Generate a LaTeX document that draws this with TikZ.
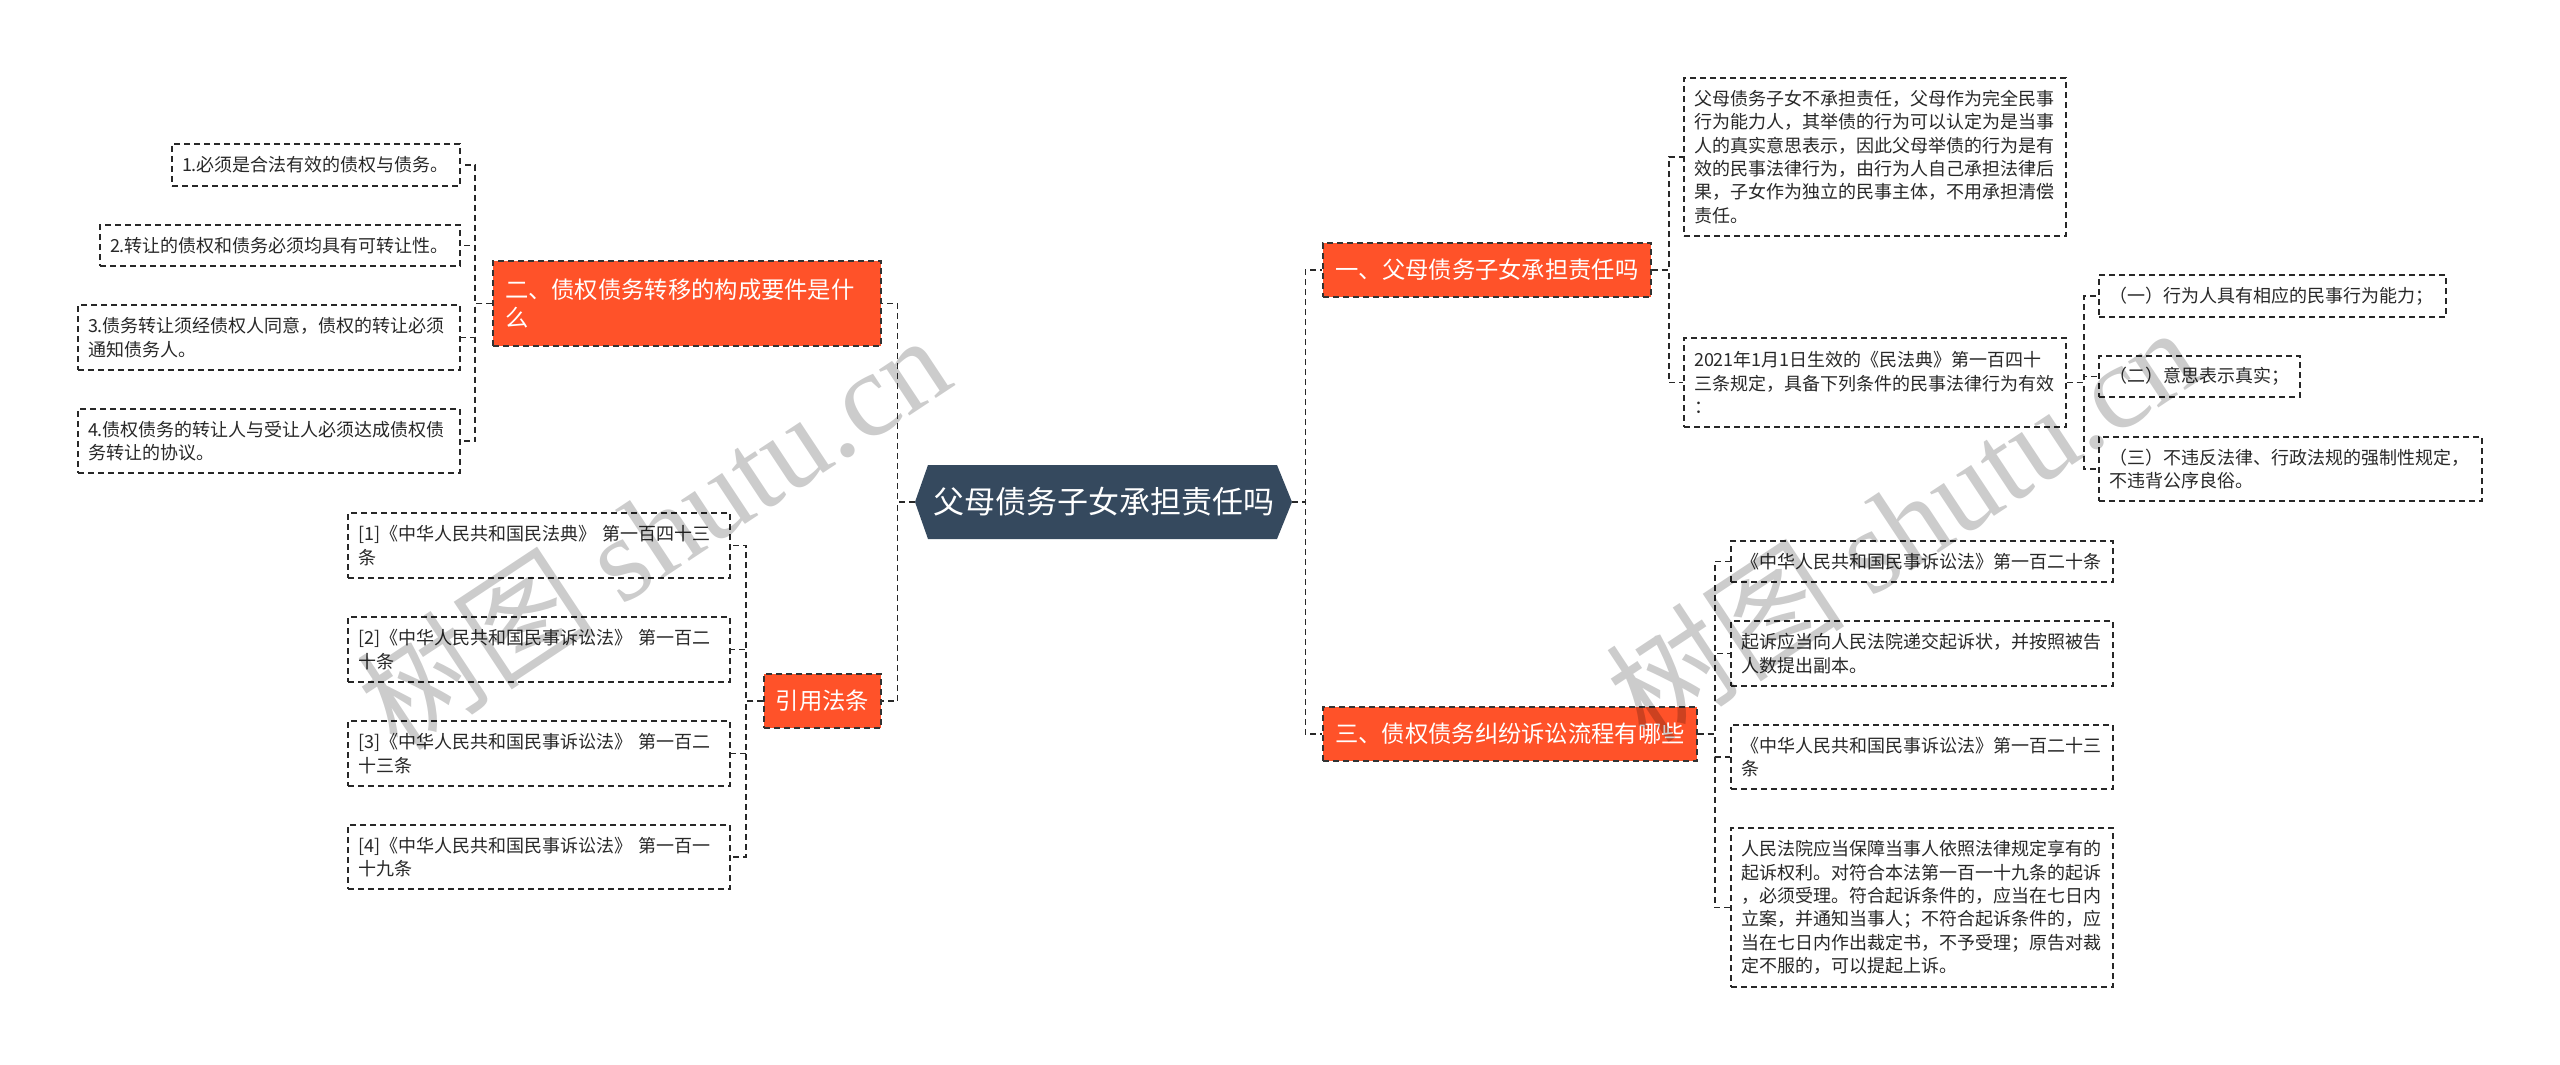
\documentclass[tikz,border=0pt]{standalone}
\usepackage{fontspec}
\setmainfont{Noto Sans CJK SC}
\newfontfamily\wmserif{Liberation Serif}
\usetikzlibrary{calc}
\definecolor{orng}{RGB}{255,82,41}
\definecolor{rootc}{RGB}{53,73,94}
\definecolor{linec}{RGB}{40,40,40}
\definecolor{txtc}{RGB}{40,40,40}
\begin{document}
\begin{tikzpicture}[x=0.5pt,y=-0.5pt,
  conn/.style={draw=linec, line width=0.85pt, dash pattern=on 3pt off 2pt},
  leaf/.style={draw=linec, line width=0.85pt, dash pattern=on 3pt off 2pt, fill=white,
    inner xsep=5pt, inner ysep=1pt, align=left, text=txtc,
    font=\fontsize{9pt}{11.65pt}\selectfont},
  lf/.style 2 args={leaf, text width=#1, minimum height=#2},
  branch/.style={draw=black!80, line width=0.85pt, dash pattern=on 3pt off 2pt, fill=orng,
    text=white, inner xsep=6pt, inner ysep=1pt, align=left,
    font=\fontsize{11.65pt}{14pt}\selectfont},
  rootbox/.style={draw=none, text=white, inner sep=0pt, minimum width=188.5pt,
    minimum height=37pt, font=\fontsize{15.5pt}{18pt}\selectfont},
  wm/.style={text=black, opacity=0.2, inner sep=0pt, font=\fontsize{60pt}{60pt}\selectfont}
]
\fill[white] (0,0) rectangle (2560,1065);
\path[use as bounding box] (0,0) rectangle (2560,1065);

% root
\fill[rootc] (915,502) -- (928,465) -- (1277,465) -- (1292,502) -- (1277,539) -- (928,539) -- cycle;
\node[rootbox] (root) at (1103.5,502) {父母债务子女承担责任吗};

% branches
\node[branch, minimum width=164pt, minimum height=27pt, align=center] (b1) at (1487,270) {一、父母债务子女承担责任吗};
\node[branch, minimum width=187pt, minimum height=27pt, align=center] (b3) at (1510,734) {三、债权债务纠纷诉讼流程有哪些};
\node[branch, text width=182pt, minimum height=42.5pt] (b2) at (687,303.5) {二、债权债务转移的构成要件是什\\么};
\node[branch, minimum width=58.5pt, minimum height=27pt, align=center] (b4) at (822.5,701) {引用法条};

% branch 1 leaves
\node[lf={181pt}{79pt}] (l11) at (1875,157) {父母债务子女不承担责任，父母作为完全民事\\行为能力人，其举债的行为可以认定为是当事\\人的真实意思表示，因此父母举债的行为是有\\效的民事法律行为，由行为人自己承担法律后\\果，子女作为独立的民事主体，不用承担清偿\\责任。};
\node[lf={181pt}{44.5pt}] (l12) at (1875,382.5) {2021年1月1日生效的《民法典》第一百四十\\三条规定，具备下列条件的民事法律行为有效\\：};
\node[lf={163.5pt}{21pt}] (s1) at (2272.5,296) {（一）行为人具有相应的民事行为能力；};
\node[lf={90.5pt}{20.5pt}] (s2) at (2199.5,376.5) {（二）意思表示真实；};
\node[lf={181.5pt}{32pt}] (s3) at (2290.5,469) {（三）不违反法律、行政法规的强制性规定，\\不违背公序良俗。};

% branch 3 leaves
\node[lf={181pt}{20.5pt}] (l31) at (1922,561.5) {《中华人民共和国民事诉讼法》第一百二十条};
\node[lf={181pt}{32.5pt}] (l32) at (1922,653.5) {起诉应当向人民法院递交起诉状，并按照被告\\人数提出副本。};
\node[lf={181pt}{32pt}] (l33) at (1922,757) {《中华人民共和国民事诉讼法》第一百二十三\\条};
\node[lf={181pt}{79.5pt}] (l34) at (1922,907.5) {人民法院应当保障当事人依照法律规定享有的\\起诉权利。对符合本法第一百一十九条的起诉\\，必须受理。符合起诉条件的，应当在七日内\\立案，并通知当事人；不符合起诉条件的，应\\当在七日内作出裁定书，不予受理；原告对裁\\定不服的，可以提起上诉。};

% branch 2 leaves
\node[lf={134pt}{21pt}] (l21) at (316,165) {1.必须是合法有效的债权与债务。};
\node[lf={170pt}{20.5pt}] (l22) at (280,245.5) {2.转让的债权和债务必须均具有可转让性。};
\node[lf={181pt}{32.5pt}] (l23) at (269,337.5) {3.债务转让须经债权人同意，债权的转让必须\\通知债务人。};
\node[lf={181pt}{32pt}] (l24) at (269,441) {4.债权债务的转让人与受让人必须达成债权债\\务转让的协议。};

% references
\node[lf={181pt}{32.5pt}] (r1) at (539,545.5) {[1]《中华人民共和国民法典》 第一百四十三\\条};
\node[lf={181pt}{32.5pt}] (r2) at (539,649.5) {[2]《中华人民共和国民事诉讼法》 第一百二\\十条};
\node[lf={181pt}{32.5pt}] (r3) at (539,753.5) {[3]《中华人民共和国民事诉讼法》 第一百二\\十三条};
\node[lf={181pt}{32pt}] (r4) at (539,857) {[4]《中华人民共和国民事诉讼法》 第一百一\\十九条};

% connectors
\draw[conn] (root.east) -- ++(13,0) |- (b1.west);
\draw[conn] (root.east) -- ++(13,0) |- (b3.west);
\draw[conn] (root.west) -- ++(-17,0) |- (b2.east);
\draw[conn] (root.west) -- ++(-17,0) |- (b4.east);

\draw[conn] (b1.east) -- ++(17,0) |- (l11.west);
\draw[conn] (b1.east) -- ++(17,0) |- (l12.west);
\draw[conn] (l12.east) -- ++(17,0) |- (s1.west);
\draw[conn] (l12.east) -- ++(17,0) |- (s2.west);
\draw[conn] (l12.east) -- ++(17,0) |- (s3.west);

\draw[conn] (b3.east) -- ++(17,0) |- (l31.west);
\draw[conn] (b3.east) -- ++(17,0) |- (l32.west);
\draw[conn] (b3.east) -- ++(17,0) |- (l33.west);
\draw[conn] (b3.east) -- ++(17,0) |- (l34.west);

\draw[conn] (b2.west) -- ++(-17,0) |- (l21.east);
\draw[conn] (b2.west) -- ++(-17,0) |- (l22.east);
\draw[conn] (b2.west) -- ++(-17,0) |- (l23.east);
\draw[conn] (b2.west) -- ++(-17,0) |- (l24.east);

\draw[conn] (b4.west) -- ++(-17,0) |- (r1.east);
\draw[conn] (b4.west) -- ++(-17,0) |- (r2.east);
\draw[conn] (b4.west) -- ++(-17,0) |- (r3.east);
\draw[conn] (b4.west) -- ++(-17,0) |- (r4.east);

% watermarks
\node[wm, rotate=33.5] (wm1) at (653,531) {树图 {\wmserif shutu.cn}};
\node[wm, rotate=33.5] (wm2) at (1902,523) {树图 {\wmserif shutu.cn}};
\end{tikzpicture}
\end{document}
